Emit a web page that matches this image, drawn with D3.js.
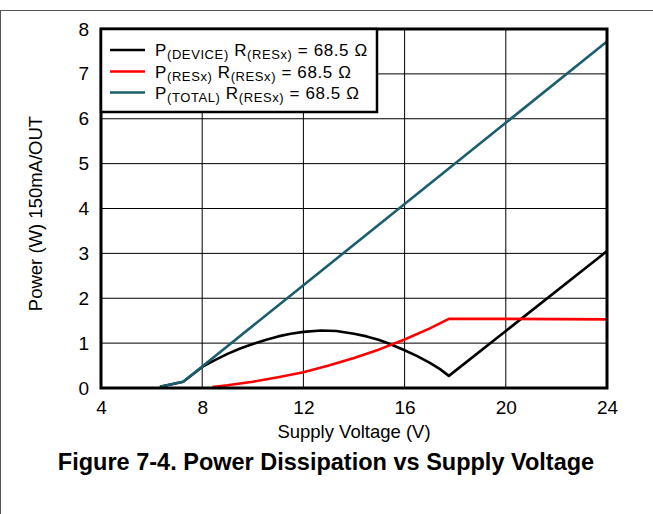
<!DOCTYPE html>
<html><head><meta charset="utf-8">
<script src="https://cdn.jsdelivr.net/npm/d3@7/dist/d3.min.js"></script>
<style>body{margin:0;background:#fff;}svg{display:block;font-family:"Liberation Sans",Arial,sans-serif;}</style>
</head><body>
<svg id="c" width="653" height="514"></svg>
<script>
const xTicks = [4, 8, 12, 16, 20, 24];
const yTicks = [0, 1, 2, 3, 4, 5, 6, 7, 8];
const totalV = [6.33, 7.25, 8, 12, 16, 20, 24];
const totalP = [0.03, 0.14, 0.48, 2.29, 4.1, 5.91, 7.72];
const deviceV = [6.33, 7.25, 8, 8.5, 9, 9.5, 10, 10.5, 11, 11.5, 12, 12.7, 13.3, 14, 14.5, 15, 15.42, 16, 16.5, 17, 17.4, 17.75, 20, 24];
const deviceP = [0.03, 0.14, 0.47, 0.62, 0.76, 0.88, 0.98, 1.07, 1.15, 1.21, 1.25, 1.28, 1.27, 1.21, 1.15, 1.07, 0.98, 0.84, 0.71, 0.56, 0.42, 0.27, 1.27, 3.05];
const resxV = [8.4, 9, 10, 11, 12, 13, 14, 15, 16, 17, 17.75, 20, 24];
const resxP = [0.02, 0.06, 0.14, 0.24, 0.35, 0.5, 0.67, 0.86, 1.08, 1.33, 1.54, 1.54, 1.53];
const legendMain = ["P", "P", "P"];
const legendSub = ["(DEVICE)", "(RESx)", "(TOTAL)"];
const legendRest = "R";
const legendRestSub = "(RESx)";
const legendVal = " = 68.5 Ω";
const colors = ["#000000", "#ff0000", "#1b5f6e"];

const svg = d3.select("#c");
const L = 101, R = 607, T = 29, B = 388;
const x = d3.scaleLinear().domain([4, 24]).range([L, R]);
const y = d3.scaleLinear().domain([0, 8]).range([B, T]);

// outer border (top and left)
svg.append("line").attr("x1", 0).attr("x2", 653).attr("y1", 10.5).attr("y2", 10.5).attr("stroke", "#555").attr("stroke-width", 1);
svg.append("line").attr("x1", 0.5).attr("x2", 0.5).attr("y1", 10).attr("y2", 514).attr("stroke", "#555").attr("stroke-width", 1);

// grid
const g = svg.append("g");
g.selectAll(".gx").data(xTicks.slice(1, -1)).join("line")
  .attr("x1", d => x(d)).attr("x2", d => x(d)).attr("y1", T).attr("y2", B)
  .attr("stroke", "#000").attr("stroke-width", 1);
g.selectAll(".gy").data(yTicks.slice(1, -1)).join("line")
  .attr("x1", L).attr("x2", R).attr("y1", d => y(d)).attr("y2", d => y(d))
  .attr("stroke", "#000").attr("stroke-width", 1);

// axes labels via d3 axes (no lines)
const ax = svg.append("g").attr("transform", `translate(0,${B})`)
  .call(d3.axisBottom(x).tickValues(xTicks).tickSize(0).tickPadding(13));
ax.select(".domain").remove();
ax.selectAll("text").attr("font-size", 19).attr("font-family", "Liberation Sans, Arial, sans-serif").attr("fill", "#000");
const ay = svg.append("g").attr("transform", `translate(${L},0)`)
  .call(d3.axisLeft(y).tickValues(yTicks).tickSize(0).tickPadding(12));
ay.select(".domain").remove();
ay.selectAll("text").attr("font-size", 19).attr("font-family", "Liberation Sans, Arial, sans-serif").attr("fill", "#000");

// lines
const line = d3.line().x(d => x(d[0])).y(d => y(d[1]));
const series = [
  {v: deviceV, p: deviceP, c: colors[0]},
  {v: resxV, p: resxP, c: colors[1]},
  {v: totalV, p: totalP, c: colors[2]}
];
series.forEach(s => {
  svg.append("path").datum(s.v.map((v, i) => [v, s.p[i]]))
    .attr("d", line).attr("fill", "none").attr("stroke", s.c).attr("stroke-width", 2.6)
    .attr("stroke-linejoin", "round");
});

// frame
svg.append("rect").attr("x", L).attr("y", T).attr("width", R - L).attr("height", B - T)
  .attr("fill", "none").attr("stroke", "#000").attr("stroke-width", 3);

// legend
const lg = svg.append("g");
lg.append("rect").attr("x", L).attr("y", T).attr("width", 377 - L).attr("height", 112 - T)
  .attr("fill", "#fff").attr("stroke", "#000").attr("stroke-width", 2.5);
const ly = [50, 71.5, 92.5];
legendMain.forEach((m, i) => {
  lg.append("line").attr("x1", 110).attr("x2", 145).attr("y1", ly[i]).attr("y2", ly[i])
    .attr("stroke", colors[i]).attr("stroke-width", 2.6);
  const t = lg.append("text").attr("x", 155).attr("y", ly[i] + 6).attr("font-size", 17)
    .attr("letter-spacing", 0.6).attr("fill", "#000");
  t.append("tspan").text(m);
  t.append("tspan").attr("font-size", 13).attr("dy", 3).text(legendSub[i]);
  t.append("tspan").attr("dy", -3).text(" " + legendRest);
  t.append("tspan").attr("font-size", 13).attr("dy", 3).text(legendRestSub);
  t.append("tspan").attr("dy", -3).text(legendVal);
});

// titles
svg.append("text").attr("x", 354).attr("y", 438).attr("text-anchor", "middle").attr("font-size", 18.5).text("Supply Voltage (V)");
svg.append("text").attr("transform", `translate(42,${(T + B) / 2 + 5}) rotate(-90)`).attr("text-anchor", "middle")
  .attr("font-size", 18.5).text("Power (W) 150mA/OUT");
svg.append("text").attr("x", 326).attr("y", 470).attr("text-anchor", "middle").attr("font-size", 23.5)
  .attr("font-weight", "bold").text("Figure 7-4. Power Dissipation vs Supply Voltage");
</script>
</body></html>
